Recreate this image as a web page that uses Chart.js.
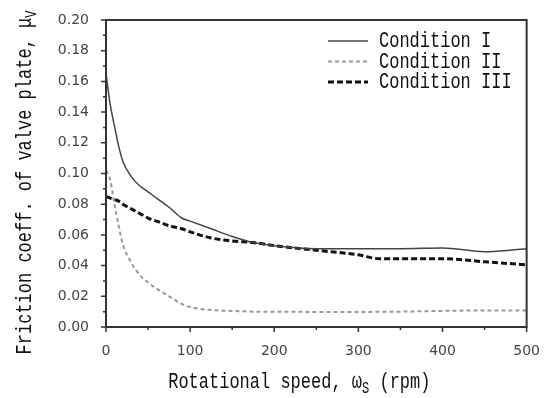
<!DOCTYPE html>
<html>
<head>
<meta charset="utf-8">
<script src="https://cdn.jsdelivr.net/npm/chart.js@4.4.1/dist/chart.umd.min.js"></script>
<style>
  html, body { margin: 0; padding: 0; background: #fff; }
</style>
</head>
<body>
<canvas id="myChart" width="548" height="398"></canvas>
<script>
// rotational speed (rpm) sample points
const rpm = [0, 5, 10, 15, 20, 30, 40, 50, 60, 75, 90, 100, 125, 150, 175, 200, 250, 300, 325, 350, 400, 450, 500];

const condition1 = [0.165, 0.145, 0.131, 0.118, 0.108, 0.098, 0.092, 0.088, 0.084, 0.078, 0.071, 0.069, 0.064, 0.059, 0.055, 0.053, 0.051, 0.051, 0.051, 0.051, 0.0515, 0.049, 0.051];
const condition2 = [0.102, 0.096, 0.080, 0.066, 0.054, 0.042, 0.034, 0.029, 0.025, 0.020, 0.015, 0.013, 0.011, 0.0105, 0.010, 0.010, 0.0098, 0.0098, 0.0099, 0.010, 0.0105, 0.0108, 0.0108];
const condition3 = [0.085, 0.084, 0.083, 0.082, 0.080, 0.077, 0.074, 0.071, 0.069, 0.066, 0.064, 0.062, 0.058, 0.056, 0.055, 0.053, 0.050, 0.047, 0.0445, 0.0445, 0.0445, 0.0425, 0.0405];

const seriesLabels = ["Condition I", "Condition II", "Condition III"];

const xTitle = [{ t: "Rotational speed, \u03c9" }, { t: "S", sub: true }, { t: " (rpm)" }];
const yTitle = [{ t: "Friction coeff. of valve plate, \u03bc" }, { t: "V", sub: true }];

const mainFont = '17px "Liberation Mono"';
const subFont = '12px "Liberation Mono"';

const toPoints = (ys) => rpm.map((r, i) => ({ x: r, y: ys[i] }));

const partsWidth = (ctx, parts) => {
  let w = 0;
  parts.forEach((p) => {
    ctx.font = p.sub ? subFont : mainFont;
    w += ctx.measureText(p.t).width;
  });
  return w;
};

// draws text tall and narrow like the original typeface
const drawParts = (ctx, parts, x0, baseline) => {
  let x = x0;
  parts.forEach((p) => {
    ctx.font = p.sub ? subFont : mainFont;
    ctx.save();
    ctx.translate(x, baseline + (p.sub ? 5 : 0));
    ctx.scale(1, 1.3);
    ctx.fillText(p.t, 0, 0);
    ctx.restore();
    x += ctx.measureText(p.t).width;
  });
};

const framePlugin = {
  id: "frame",
  afterDraw(chart) {
    const { ctx, chartArea: a } = chart;
    const xs = chart.scales.x;
    const ys = chart.scales.y;
    ctx.save();

    ctx.strokeStyle = "#333";
    ctx.lineWidth = 2;
    ctx.strokeRect(a.left, a.top, a.right - a.left, a.bottom - a.top);

    // outward tick marks, minor ones shorter
    ctx.lineWidth = 1.5;
    ctx.beginPath();
    for (let i = 0; i <= 20; i++) {
      const py = ys.getPixelForValue(i / 100);
      const len = i % 2 === 0 ? 5 : 3;
      ctx.moveTo(a.left, py);
      ctx.lineTo(a.left - len, py);
    }
    for (let v = 0; v <= 500; v += 50) {
      const px = xs.getPixelForValue(v);
      const len = v % 100 === 0 ? 5 : 3;
      ctx.moveTo(px, a.bottom);
      ctx.lineTo(px, a.bottom + len);
    }
    ctx.stroke();

    // legend inside the plot
    ctx.textBaseline = "alphabetic";
    ctx.textAlign = "left";
    chart.data.datasets.forEach((ds, i) => {
      const cy = 41 + i * 20.5;
      ctx.save();
      ctx.strokeStyle = ds.borderColor;
      ctx.lineWidth = ds.borderWidth;
      ctx.setLineDash(ds.borderDash || []);
      ctx.beginPath();
      ctx.moveTo(328, cy);
      ctx.lineTo(368, cy);
      ctx.stroke();
      ctx.restore();
      ctx.fillStyle = "#111";
      drawParts(ctx, [{ t: ds.label }], 379, cy + 6);
    });

    // axis titles
    ctx.fillStyle = "#111";
    const xw = partsWidth(ctx, xTitle);
    drawParts(ctx, xTitle, (a.left + a.right) / 2 - 17 - xw / 2, 388);

    const yw = partsWidth(ctx, yTitle);
    ctx.save();
    ctx.translate(31, (a.top + a.bottom) / 2 + 9);
    ctx.rotate(-Math.PI / 2);
    drawParts(ctx, yTitle, -yw / 2, 0);
    ctx.restore();

    ctx.restore();
  },
};

const tickFont = { family: "DejaVu Sans", size: 14 };

const myChart = new Chart(document.getElementById("myChart").getContext("2d"), {
  type: "line",
  data: {
    datasets: [
      {
        label: seriesLabels[0],
        data: toPoints(condition1),
        borderColor: "#444",
        borderWidth: 1.5,
      },
      {
        label: seriesLabels[1],
        data: toPoints(condition2),
        borderColor: "#999",
        borderWidth: 2,
        borderDash: [4, 3],
      },
      {
        label: seriesLabels[2],
        data: toPoints(condition3),
        borderColor: "#111",
        borderWidth: 3,
        borderDash: [6, 3],
      },
    ],
  },
  options: {
    responsive: false,
    animation: false,
    devicePixelRatio: 1,
    layout: { padding: { top: 20, right: 21, left: 0, bottom: 0 } },
    elements: {
      point: { radius: 0 },
      line: { cubicInterpolationMode: "monotone", fill: false },
    },
    plugins: {
      legend: { display: false },
      tooltip: { enabled: false },
    },
    scales: {
      x: {
        type: "linear",
        min: 0,
        max: 500,
        grid: { display: false },
        border: { display: false },
        ticks: { stepSize: 100, color: "#444", font: tickFont, padding: 8, maxRotation: 0 },
        afterFit: (s) => { s.height = 71; },
      },
      y: {
        min: 0,
        max: 0.2,
        grid: { display: false },
        border: { display: false },
        ticks: {
          stepSize: 0.02,
          color: "#444",
          font: tickFont,
          padding: 9,
          callback: (v) => v.toFixed(2),
        },
        afterFit: (s) => { s.width = 106; },
      },
    },
  },
  plugins: [framePlugin],
});
</script>
</body>
</html>
